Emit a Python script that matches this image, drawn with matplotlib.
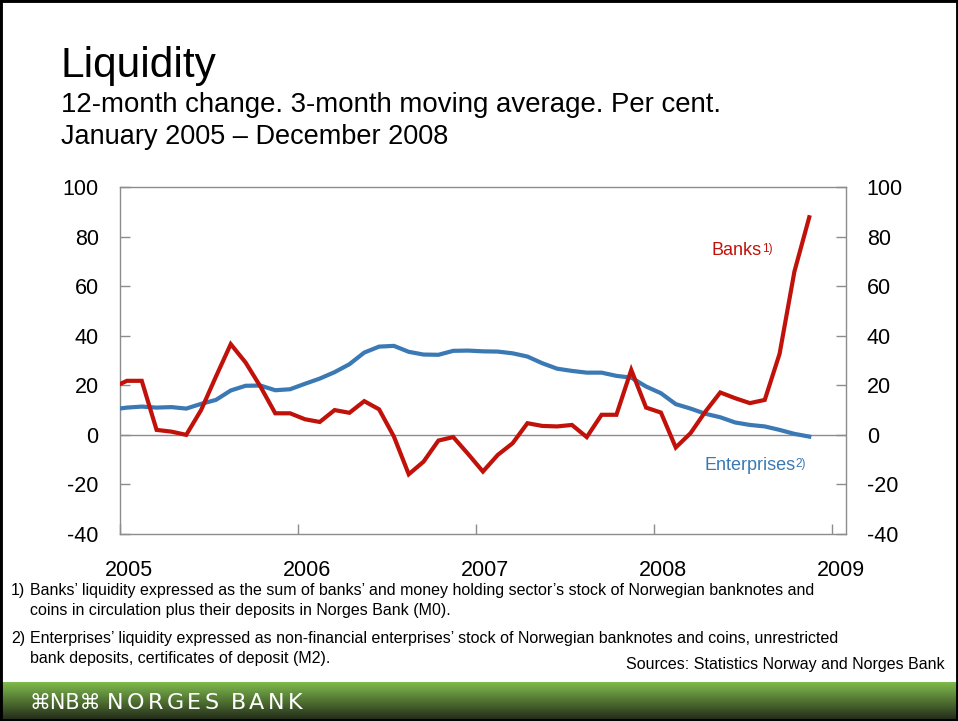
import matplotlib
matplotlib.use("Agg")
import matplotlib.pyplot as plt
import matplotlib.transforms as mtransforms
import numpy as np
import pandas as pd
from matplotlib.patches import Rectangle


# monthly observations, December 2004 to November 2008
MONTHS = pd.date_range("2004-12-01", "2008-11-01", freq="MS")

BANKS = [
    19.0,
    21.8, 21.8, 2.0, 1.3, 0.0, 10.0, 23.5, 36.6, 29.2, 19.5, 8.7, 8.7,
    6.3, 5.2, 10.0, 8.9, 13.6, 10.3, -0.7, -15.9, -10.8, -2.3, -0.9, -7.7,
    -14.8, -8.1, -3.4, 4.7, 3.6, 3.4, 4.0, -0.9, 8.1, 8.1, 26.2, 11.0,
    9.0, -5.1, 0.7, 9.4, 17.1, 14.8, 12.8, 14.1, 32.7, 65.9, 87.8,
]

ENTERPRISES = [
    10.2,
    11.0, 11.4, 11.0, 11.2, 10.6, 12.5, 14.1, 17.9, 19.8, 19.9, 18.0, 18.4,
    20.6, 22.7, 25.3, 28.5, 33.2, 35.6, 35.9, 33.5, 32.4, 32.3, 33.9, 34.0,
    33.7, 33.6, 32.9, 31.6, 28.9, 26.7, 25.8, 25.1, 25.1, 23.8, 23.1, 19.5,
    16.8, 12.4, 10.6, 8.5, 7.1, 5.0, 4.0, 3.4, 2.0, 0.4, -0.7,
]

YEAR_TICKS = [2005, 2006, 2007, 2008, 2009]
Y_TICKS = [-40, -20, 0, 20, 40, 60, 80, 100]

TITLE = "Liquidity"
SUBTITLE = ["12-month change. 3-month moving average. Per cent.",
            "January 2005 \u2013 December 2008"]
NOTE_1 = ["Banks\u2019 liquidity expressed as the sum of banks\u2019 and money holding sector\u2019s stock of Norwegian banknotes and",
          "coins in circulation plus their deposits in Norges Bank (M0)."]
NOTE_2 = ["Enterprises\u2019 liquidity expressed as non-financial enterprises\u2019 stock of Norwegian banknotes and coins, unrestricted",
          "bank deposits, certificates of deposit (M2)."]
SOURCE = "Sources: Statistics Norway and Norges Bank"
LOGO = "\u2318NB\u2318"
BANK_NAME = "NORGES BANK"

RED = "#c0120a"
BLUE = "#3a79b3"
SPINE = "#8c8c8c"

plt.rcParams["font.family"] = ["Liberation Sans", "DejaVu Sans"]
plt.rcParams["axes.unicode_minus"] = False

W, H = 958, 721
fig = plt.figure(figsize=(W / 100, H / 100), dpi=100)
renderer = fig.canvas.get_renderer()


def fx(px):
    return px / W


def fy(py):
    return 1 - py / H


# plot area
ax = fig.add_axes([fx(119.5), fy(534), fx(846 - 119.5), (534 - 187) / H])
x = MONTHS.year + (MONTHS.month - 0.5) / 12

ax.axhline(0, color=SPINE, lw=1.0, zorder=1)
ax.plot(x, ENTERPRISES, color=BLUE, lw=3.0, solid_joinstyle="miter", zorder=3)
ax.plot(x, BANKS, color=RED, lw=3.0, solid_joinstyle="miter", zorder=4)

ax.set_xlim(2005, 2005 + (846 - 119.5) / 178)
ax.set_ylim(-40, 100)
ax.set_xticks(YEAR_TICKS)
ax.set_xticklabels([str(y) for y in YEAR_TICKS])
ax.set_yticks(Y_TICKS)

for side in ["left", "right", "top", "bottom"]:
    ax.spines[side].set_color(SPINE)
    ax.spines[side].set_linewidth(1.0)

ax.tick_params(axis="both", direction="in", length=7, width=1, color=SPINE,
               labelsize=15.5, labelcolor="black")
ax.tick_params(axis="y", left=True, right=True, labelleft=True, labelright=True, pad=15)
ax.tick_params(axis="x", pad=19)

shift = mtransforms.ScaledTranslation(0.09, 0, fig.dpi_scale_trans)
for lab in ax.get_xticklabels():
    lab.set_transform(lab.get_transform() + shift)


def label_with_note(xd, yd, word, note, color):
    t = ax.text(xd, yd, word, color=color, fontsize=13, ha="left", va="baseline")
    bb = t.get_window_extent(renderer=renderer)
    # bb.y0 sits at the font descent, a little under the baseline
    ax.annotate(note, xy=(bb.x1, bb.y0), xycoords="figure pixels",
                xytext=(0.4, 5.2), textcoords="offset points",
                color=color, fontsize=8.5, ha="left", va="baseline")


label_with_note(2008.325, 72.5, "Banks", "1)", RED)
label_with_note(2008.285, -14.2, "Enterprises", "2)", BLUE)

# headings
fig.text(fx(60), fy(66), TITLE, fontsize=30.5, va="center", ha="left")
fig.text(fx(61), fy(105), SUBTITLE[0], fontsize=19.9, va="center", ha="left")
fig.text(fx(61), fy(137), SUBTITLE[1], fontsize=19.5, va="center", ha="left")

# footnotes
fs = 11.5
fig.text(fx(11), fy(591), "1)", fontsize=fs, va="center")
fig.text(fx(30), fy(591), NOTE_1[0], fontsize=fs, va="center")
fig.text(fx(30), fy(610), NOTE_1[1], fontsize=fs, va="center")
fig.text(fx(11), fy(638), "2)", fontsize=fs, va="center")
fig.text(fx(30), fy(638), NOTE_2[0], fontsize=fs, va="center")
fig.text(fx(30), fy(658), NOTE_2[1], fontsize=fs, va="center")
fig.text(fx(945), fy(665), SOURCE, fontsize=fs, va="center", ha="right")

# footer band with gradient
band = fig.add_axes([0, 0, 1, (H - 682) / H])
band.set_axis_off()
grad = np.linspace(0, 1, 64)[:, None]
top_col = np.array([0.50, 0.73, 0.30])
bot_col = np.array([0.12, 0.15, 0.09])
img = grad[..., None] * bot_col + (1 - grad[..., None]) * top_col
band.imshow(img, aspect="auto", extent=[0, 1, 0, 1], origin="upper")
band.set_xlim(0, 1)
band.set_ylim(0, 1)
fig.text(fx(30), fy(703), LOGO, fontsize=15, color="white", va="center",
         family=["DejaVu Sans"])

# letter-spaced bank name
pos = 107
for ch in BANK_NAME:
    if ch == " ":
        pos += 9
        continue
    t = fig.text(fx(pos), fy(703), ch, fontsize=16, color="white", va="center",
                 family=["DejaVu Sans"])
    pos += t.get_window_extent(renderer=renderer).width + 3.3

# outer frame
fig.patches.append(Rectangle((0, 0), 1, 1, transform=fig.transFigure, fill=False,
                             edgecolor="black", lw=3.5, zorder=10))

fig.savefig("out.png", dpi=100)
